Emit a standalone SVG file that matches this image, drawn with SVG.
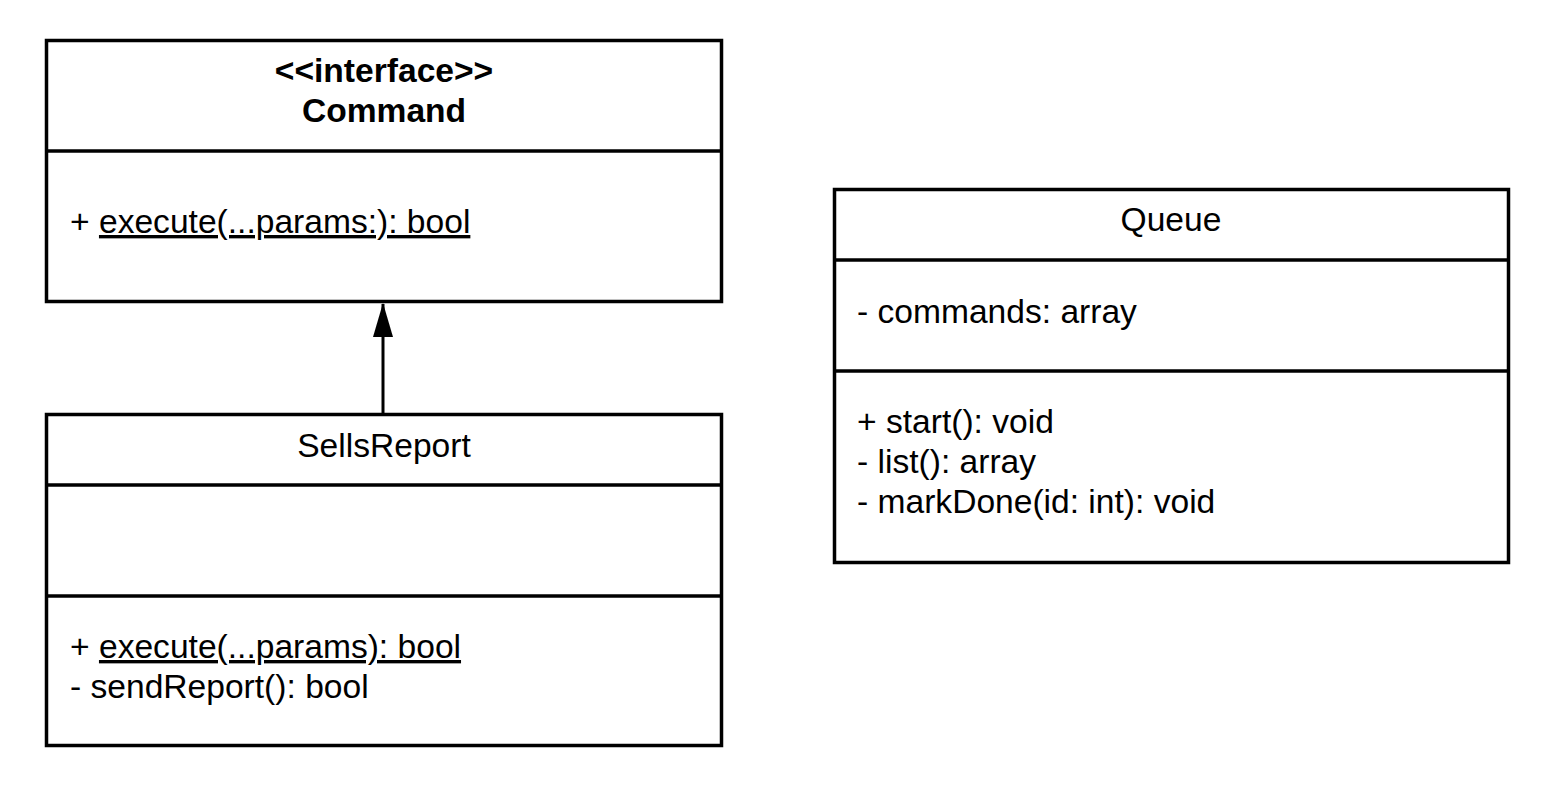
<svg xmlns="http://www.w3.org/2000/svg" width="1541" height="797" viewBox="0 0 1541 797">
<style>
.box{fill:#fff;stroke:#000;stroke-width:3.5}
.div{stroke:#000;stroke-width:3.5}
text{font-family:"Liberation Sans",Arial,sans-serif;font-size:33.6px;fill:#000}
.c{text-anchor:middle}
.b{font-weight:bold}
.u{text-decoration:underline}
</style>
<defs>
<marker id="arr" markerWidth="34" markerHeight="22" refX="33" refY="11" orient="auto" markerUnits="userSpaceOnUse" viewBox="0 0 34 22">
<path d="M0,1 L34,11 L0,21 Z" fill="#000"/>
</marker>
</defs>
<rect width="1541" height="797" fill="#fff"/>
<g id="connectors">
<line x1="383" y1="414" x2="383" y2="304" stroke="#000" stroke-width="3" marker-end="url(#arr)"/>
</g>
<g id="command">
<rect class="box" x="46.5" y="40.5" width="675" height="261"/>
<line class="div" x1="46.5" y1="151" x2="721.5" y2="151"/>
<text class="c b" x="384" y="82">&lt;&lt;interface&gt;&gt;</text>
<text class="c b" x="384" y="122">Command</text>
<text x="70" y="233">+ <tspan class="u">execute(...params:): bool</tspan></text>
</g>
<g id="sellsreport">
<rect class="box" x="46.5" y="414.5" width="675" height="331"/>
<line class="div" x1="46.5" y1="485" x2="721.5" y2="485"/>
<line class="div" x1="46.5" y1="596" x2="721.5" y2="596"/>
<text class="c" x="384" y="457">SellsReport</text>
<text x="70" y="658">+ <tspan class="u">execute(...params): bool</tspan></text>
<text x="70" y="698">- sendReport(): bool</text>
</g>
<g id="queue">
<rect class="box" x="834.5" y="189.5" width="674" height="373"/>
<line class="div" x1="834.5" y1="260" x2="1508.5" y2="260"/>
<line class="div" x1="834.5" y1="371" x2="1508.5" y2="371"/>
<text class="c" x="1171" y="231">Queue</text>
<text x="857" y="323">- commands: array</text>
<text x="857" y="433">+ start(): void</text>
<text x="857" y="473">- list(): array</text>
<text x="857" y="513">- markDone(id: int): void</text>
</g>
</svg>
